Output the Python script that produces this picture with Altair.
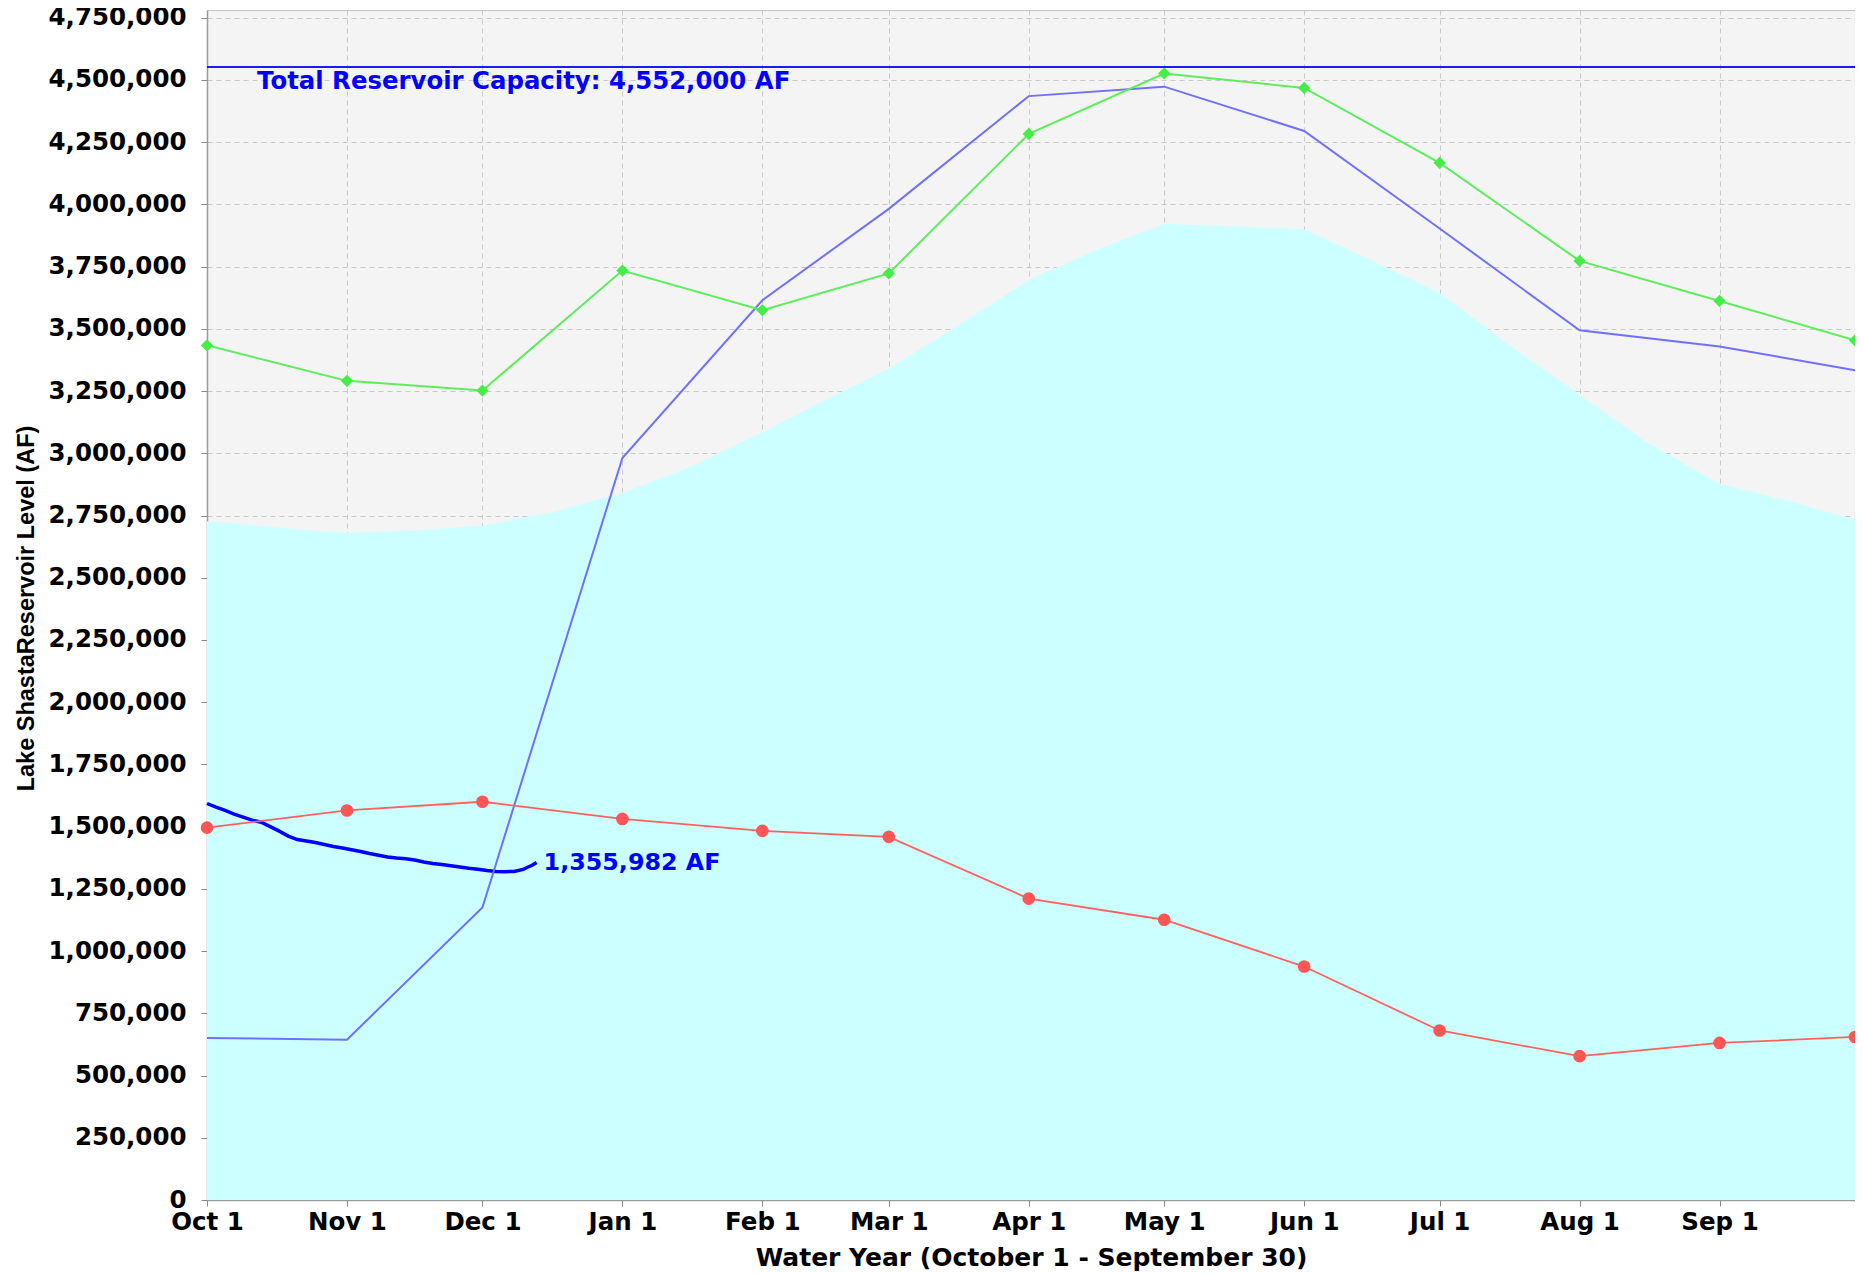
import altair as alt
import pandas as pd

# ---------------- data ----------------
month_dates = ["2022-10-01", "2022-11-01", "2022-12-01", "2023-01-01", "2023-02-01",
               "2023-03-01", "2023-04-01", "2023-05-01", "2023-06-01", "2023-07-01",
               "2023-08-01", "2023-09-01", "2023-10-01"]
green_vals = [3434000, 3291000, 3252000, 3734000, 3575000, 3723000, 4283000,
              4526000, 4468000, 4167000, 3773000, 3612000, 3454000]
violet_vals = [651000, 644000, 1175000, 2981000, 3615000, 3982000, 4435000,
               4473000, 4295000, 3903000, 3494000, 3429000, 3334000]
red_vals = [1496000, 1565000, 1600000, 1531000, 1483000, 1459000, 1211000,
            1126000, 938000, 681000, 578000, 631000, 655000]

avg_dates = ["2022-10-01", "2022-10-16", "2022-11-01", "2022-11-16", "2022-12-01",
             "2022-12-16", "2023-01-01", "2023-01-16", "2023-02-01", "2023-02-15",
             "2023-03-01", "2023-03-16", "2023-04-01", "2023-04-16", "2023-05-01",
             "2023-05-16", "2023-06-01", "2023-06-16", "2023-07-01", "2023-07-16",
             "2023-08-01", "2023-08-16", "2023-09-01", "2023-09-16", "2023-10-01"]
avg_vals = [2727000, 2703000, 2680000, 2690000, 2710000, 2762000, 2840000, 2945000,
            3085000, 3215000, 3340000, 3510000, 3696000, 3818000, 3922000, 3912000,
            3900000, 3775000, 3644000, 3440000, 3235000, 3043000, 2878000, 2810000,
            2734000]

cur_days = [0, 2, 4, 6, 8, 10, 12, 14, 16, 18, 20, 22, 24, 26, 28, 30, 32, 34, 36,
            38, 40, 42, 44, 46, 48, 50, 52, 54, 56, 58, 60, 62, 64, 66, 68, 70, 71,
            72, 73]
cur_vals = [1593000, 1578000, 1565000, 1550000, 1538000, 1526000, 1518000, 1500000,
            1482000, 1462000, 1448000, 1442000, 1436000, 1428000, 1420000, 1414000,
            1407000, 1400000, 1392000, 1385000, 1378000, 1374000, 1371000, 1366000,
            1358000, 1352000, 1348000, 1343000, 1338000, 1333000, 1329000, 1324000,
            1320000, 1319000, 1320000, 1328000, 1337000, 1345000, 1355982]

capacity = 4552000
capacity_label = "Total Reservoir Capacity: 4,552,000 AF"
current_label = "1,355,982 AF"
y_ticks = list(range(0, 4750001, 250000))
y_title = "Lake ShastaReservoir Level (AF)"
x_title = "Water Year (October 1 - September 30)"

# ---------------- tables ----------------
def local(d):
    return d + "T00:00:00"

monthly = pd.DataFrame({
    "date": [local(d) for d in month_dates],
    "green": green_vals, "violet": violet_vals, "red": red_vals,
})
avg = pd.DataFrame({"date": [local(d) for d in avg_dates], "v": avg_vals})
cur_dt = pd.Timestamp("2022-10-01") + pd.to_timedelta(cur_days, unit="D")
cur = pd.DataFrame({"date": cur_dt.strftime("%Y-%m-%dT%H:%M:%S"), "v": cur_vals})
cur_end = cur.tail(1).assign(label=current_label)
cap = pd.DataFrame({"date": [local(month_dates[0])], "v": [capacity], "label": [capacity_label]})


def dt(s):
    y, m, d = s.split("-")
    return alt.DateTime(year=int(y), month=int(m), date=int(d))


x_scale = alt.Scale(domain=[dt(month_dates[0]), dt(month_dates[-1])])
y_scale = alt.Scale(domain=[0, 4781000], nice=False)

x_axis = alt.Axis(values=[dt(d) for d in month_dates[:12]], format="%b %-d",
                  title=x_title, labelPadding=4, titlePadding=12,
                  labelFlush=False, labelOverlap=False)
y_axis = alt.Axis(values=y_ticks, format=",d", title=y_title, labelPadding=15,
                  labelOverlap=False, titleFont="Liberation Sans",
                  titleFontWeight="bold", titleFontSize=23.5,
                  titleX=-181, titleY=598, titleBaseline="middle")


def X(field="date"):
    return alt.X(f"{field}:T", scale=x_scale, axis=x_axis)


def Y(field):
    return alt.Y(f"{field}:Q", scale=y_scale, axis=y_axis)


area = alt.Chart(avg).mark_area(color="#CCFFFF", opacity=1).encode(x=X(), y=Y("v"))

cur_line = alt.Chart(cur).mark_line(color="#0000FF", strokeWidth=3.5).encode(x=X(), y=Y("v"))

violet = alt.Chart(monthly).mark_line(color="#7070FF", strokeWidth=2).encode(x=X(), y=Y("violet"))

green_line = alt.Chart(monthly).mark_line(color="#5CEE5C", strokeWidth=2).encode(x=X(), y=Y("green"))
green_pts = alt.Chart(monthly).mark_point(shape="diamond", filled=True, size=150,
                                          color="#44EE44", opacity=1).encode(x=X(), y=Y("green"))

red_line = alt.Chart(monthly).mark_line(color="#FF6060", strokeWidth=1.8).encode(x=X(), y=Y("red"))
red_pts = alt.Chart(monthly).mark_circle(size=160, color="#FF5555", opacity=1).encode(x=X(), y=Y("red"))

cap_rule = alt.Chart(cap).mark_rule(color="#1A1AFF", strokeWidth=2).encode(y=Y("v"))
cap_text = alt.Chart(cap).mark_text(align="left", baseline="top", dx=50, dy=3,
                                    font="DejaVu Sans", fontWeight="bold", fontSize=24.4,
                                    color="#0000FF").encode(x=X(), y=Y("v"), text="label:N")
cur_text = alt.Chart(cur_end).mark_text(align="left", baseline="middle", dx=7, dy=1,
                                        font="DejaVu Sans", fontWeight="bold", fontSize=23.8,
                                        color="#0000FF").encode(x=X(), y=Y("v"), text="label:N")

chart = alt.layer(
    area, cur_line, violet, green_line, green_pts, red_line, red_pts,
    cap_rule, cap_text, cur_text,
).properties(
    width=1648, height=1190,
    autosize=alt.AutoSizeParams(type="none"),
    padding={"left": 199, "top": 2, "right": 0, "bottom": 76},
).configure_view(
    fill="#F4F4F4", stroke="#C4C4C4", strokeWidth=1,
).configure_axis(
    labelFont="DejaVu Sans", labelFontWeight="bold", labelFontSize=24.5, labelColor="#000000",
    titleFont="DejaVu Sans", titleFontWeight="bold", titleFontSize=25, titleColor="#000000",
    gridColor="#C8C8C8", gridDash=[5, 4], gridWidth=1,
    tickColor="#888888", tickSize=6, domainColor="#9A9A9A", domainWidth=1.5,
)

chart.save("out.html", embed_options={"renderer": "svg", "actions": False})
